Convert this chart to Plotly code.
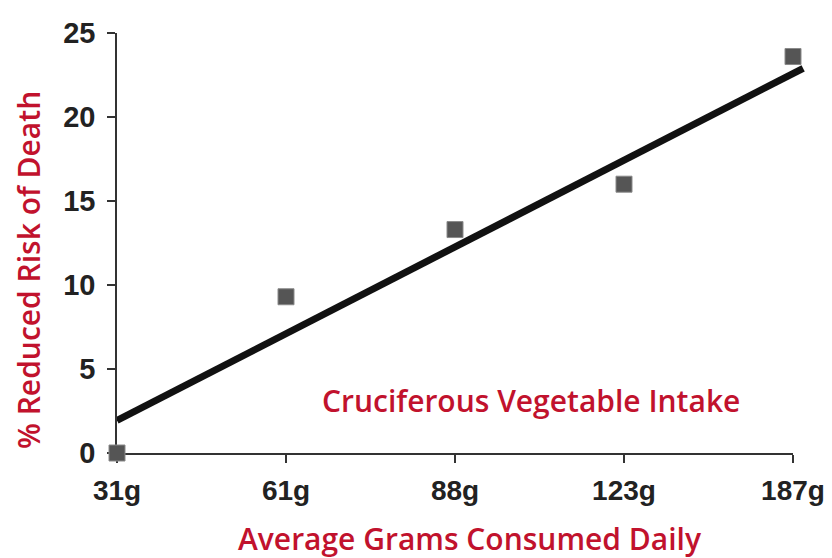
import plotly.graph_objects as go

# Data
categories = ["31g", "61g", "88g", "123g", "187g"]
risk_reduction = [0.0, 9.3, 13.3, 16.0, 23.6]
trend_x = [0.0, 4.06]
trend_y = [1.94, 22.9]
y_ticks = [0, 5, 10, 15, 20, 25]

red = "#c1122d"
dark = "#222222"

# page body has an 8px margin: figure coordinates = page coordinates - 8
OFF = 8
FIG_W, FIG_H = 832 - OFF, 558 - OFF
L, T = 117 - OFF, 33 - OFF
MAIN_RIGHT = 793 - OFF
EXT_RIGHT = 810 - OFF
BOTTOM = 453 - OFF
plot_w = EXT_RIGHT - L
plot_h = BOTTOM - T
main_w = MAIN_RIGHT - L


def px(xp):
    return (xp - OFF - L) / plot_w


def py(yp):
    return (BOTTOM - (yp - OFF)) / plot_h


fig = go.Figure()

fig.add_trace(go.Scatter(
    x=trend_x, y=trend_y, mode="lines",
    line=dict(color="#111111", width=7),
    xaxis="x2", yaxis="y2", showlegend=False, hoverinfo="skip",
))

fig.add_trace(go.Scatter(
    x=list(range(len(categories))), y=risk_reduction, mode="markers",
    marker=dict(symbol="square", size=16, color="#555555",
                line=dict(color="#8a8a8a", width=1)),
    cliponaxis=False, showlegend=False,
))

axis_common = dict(showgrid=False, zeroline=False, showline=True,
                   linecolor="#333333", linewidth=1.5, ticks="outside",
                   ticklen=8, tickwidth=1.5, tickcolor="#333333",
                   layer="below traces", automargin=False)

fig.update_layout(
    width=FIG_W, height=FIG_H,
    margin=dict(l=L, r=FIG_W - EXT_RIGHT, t=T, b=FIG_H - BOTTOM),
    paper_bgcolor="white", plot_bgcolor="rgba(0,0,0,0)",
    xaxis=dict(range=[0, 4], domain=[0, main_w / plot_w],
               tickvals=list(range(len(categories))), ticktext=categories,
               ticklabelstandoff=4,
               tickfont=dict(family="Liberation Sans", size=28, color=dark, weight="bold"),
               **axis_common),
    yaxis=dict(range=[0, 25], tickvals=y_ticks, ticklabelstandoff=6,
               tickfont=dict(family="Liberation Sans", size=29, color=dark, weight="bold"),
               **axis_common),
    xaxis2=dict(range=[0, 4 * plot_w / main_w], domain=[0, 1], anchor="y2", visible=False),
    yaxis2=dict(range=[0, 25], domain=[0, 1], anchor="x2", visible=False),
    annotations=[
        dict(text="% Reduced Risk of Death", xref="paper", yref="paper",
             x=px(28), y=py(270), xanchor="center", yanchor="middle",
             textangle=-90, showarrow=False,
             font=dict(family="Open Sans", size=30, color=red, weight=600)),
        dict(text="Average Grams Consumed Daily", xref="paper", yref="paper",
             x=px(470), y=py(538), xanchor="center", yanchor="middle",
             showarrow=False, font=dict(family="Open Sans", size=30, color=red, weight=600)),
        dict(text="Cruciferous Vegetable Intake", xref="paper", yref="paper",
             x=px(531), y=py(400), xanchor="center", yanchor="middle",
             showarrow=False, font=dict(family="Open Sans", size=30, color=red, weight=600)),
    ],
)

fig.write_html("out.html")
